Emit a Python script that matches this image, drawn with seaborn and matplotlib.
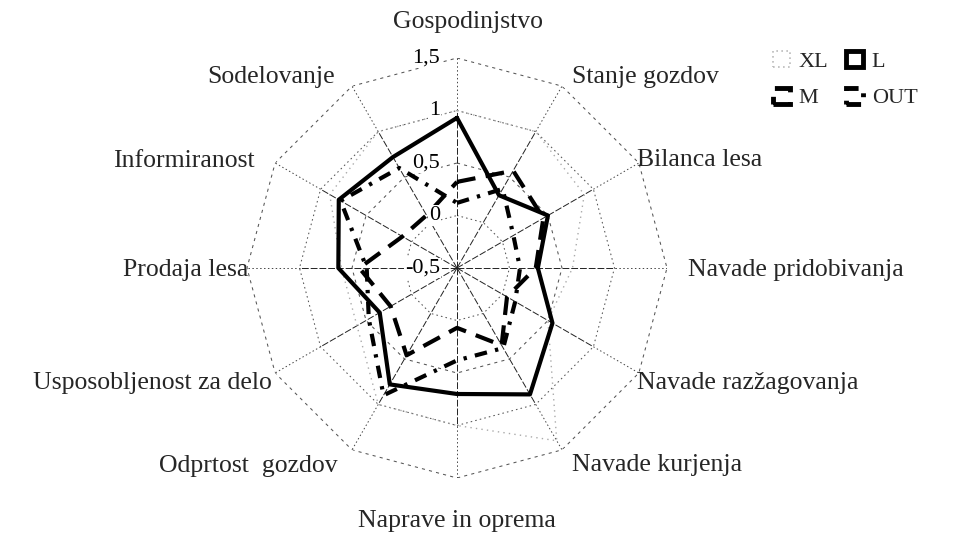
import numpy as np
import matplotlib
matplotlib.use("Agg")
import matplotlib.pyplot as plt
import matplotlib.transforms as mtransforms
from matplotlib.patches import Patch
import seaborn as sns

# ---------------- data ----------------
categories = ["Gospodinjstvo", "Stanje gozdov", "Bilanca lesa", "Navade pridobivanja",
              "Navade razžagovanja", "Navade kurjenja", "Naprave in oprema",
              "Odprtost  gozdov", "Usposobljenost za delo", "Prodaja lesa",
              "Informiranost", "Sodelovanje"]
xl_values = [1.0, 1.0, 0.9, 0.6, 0.5, 1.4, 1.0, 1.0, 0.6, 0.6, 0.9, 1.0]
l_values = [0.93, 0.30, 0.50, 0.27, 0.55, 0.89, 0.70, 0.78, 0.35, 0.63, 0.80, 0.72]
m_values = [0.32, 0.57, 0.45, 0.25, 0.05, 0.35, 0.07, 0.46, 0.23, 0.43, 0.10, 0.08]
out_values = [0.12, 0.37, 0.12, 0.10, 0.14, 0.38, 0.38, 0.90, 0.47, 0.36, 0.78, 0.60]
series_names = ["XL", "L", "M", "OUT"]
ring_values = [0.0, 0.5, 1.0, 1.5]
tick_values = [1.5, 1.0, 0.5, 0.0, -0.5]
tick_labels = ["1,5", "1", "0,5", "0", "-0,5"]

# ---------------- style ----------------
sns.set_theme(style="white")
plt.rcParams["font.family"] = ["Liberation Serif", "DejaVu Serif"]

W, H = 980, 534
fig = plt.figure(figsize=(W / 100, H / 100), dpi=100)
fig.patch.set_facecolor("white")

cx, cy, R = 457, 268, 210
ax = fig.add_axes([(cx - R) / W, 1 - (cy + R) / H, 2 * R / W, 2 * R / H],
                  projection="polar")
ax.set_theta_zero_location("N")
ax.set_theta_direction(-1)
ax.set_ylim(-0.5, 1.5)
ax.grid(False)
ax.spines["polar"].set_visible(False)
ax.set_xticks([])
ax.set_yticks([])
ax.patch.set_alpha(0)

n = len(categories)
theta = np.linspace(0, 2 * np.pi, n + 1)

# grid rings (polygons)
ring_styles = {0.0: (0, (1.5, 3)), 0.5: (0, (3, 4)), 1.0: (0, (1.5, 3)), 1.5: (0, (3, 4))}
for rv in ring_values:
    ax.plot(theta, [rv] * (n + 1), color="#555555", lw=0.75,
            linestyle=ring_styles[rv], zorder=1)
# spokes
for t in theta[:-1]:
    ax.plot([t, t], [-0.5, 1.0], color="#222222", lw=0.7,
            linestyle=(0, (7, 2)), zorder=1)
    ax.plot([t, t], [1.0, 1.5], color="#444444", lw=0.7,
            linestyle=(0, (1.5, 2.5)), zorder=1)


def closed(v):
    return list(v) + [v[0]]


styles = {
    "XL": dict(values=xl_values, color="#aaaaaa", lw=1.0, ls=(0, (1, 3))),
    "L": dict(values=l_values, color="black", lw=3.0, ls="-"),
    "M": dict(values=m_values, color="black", lw=3.0, ls=(0, (4.5, 2.5))),
    "OUT": dict(values=out_values, color="black", lw=3.0, ls=(0, (3, 2, 0.8, 2))),
}
for name in series_names:
    s = styles[name]
    sns.lineplot(x=theta, y=closed(s["values"]), ax=ax, sort=False,
                 color=s["color"], linewidth=s["lw"], linestyle=s["ls"],
                 zorder=3)
ax.set_xlabel("")
ax.set_ylabel("")

# radial tick labels along the first axis
trans = mtransforms.offset_copy(ax.transData, fig=fig, x=-17, y=0, units="dots")
for v, lab in zip(tick_values, tick_labels):
    ax.text(0, v, lab, transform=trans, ha="right", va="center",
            fontsize=16, color="black", zorder=5,
            bbox=dict(facecolor="white", edgecolor="none", pad=0.5))

# category labels
label_pos = [
    (468, 22, "center"), (572, 77, "left"), (637, 160, "left"), (688, 270, "left"),
    (637, 383, "left"), (572, 465, "left"), (457, 521, "center"), (338, 466, "right"),
    (272, 383, "right"), (248, 270, "right"), (255, 161, "right"), (335, 77, "right"),
]
for lab, (px, py, ha) in zip(categories, label_pos):
    fig.text(px / W, 1 - py / H, lab, ha=ha, va="center", fontsize=18.5)

# legend
handles = {
    "XL": Patch(facecolor="white", edgecolor="#bbbbbb", linewidth=1.2, linestyle=(0, (1, 2))),
    "L": Patch(facecolor="white", edgecolor="black", linewidth=3.5, linestyle="-"),
    "M": Patch(facecolor="white", edgecolor="black", linewidth=3.5, linestyle=(0, (4, 2))),
    "OUT": Patch(facecolor="white", edgecolor="black", linewidth=3.5, linestyle=(0, (3, 2, 0.8, 2))),
}
order = ["XL", "M", "L", "OUT"]
fig.legend([handles[k] for k in order], order, loc="upper left",
           bbox_to_anchor=(762 / W, 1 - 40 / H), ncol=2, frameon=False,
           fontsize=16, handlelength=0.75, handleheight=0.75, handletextpad=0.4,
           columnspacing=0.8, labelspacing=0.7, borderpad=0)

fig.savefig("out.png", dpi=100, facecolor="white")
